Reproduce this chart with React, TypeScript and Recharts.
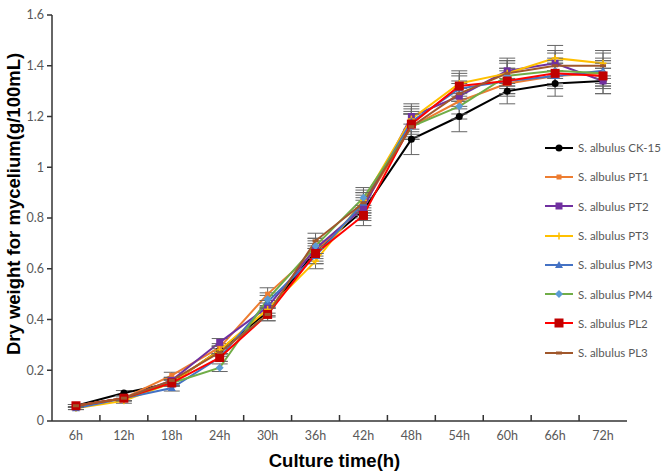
import React from 'react';
import { LineChart, Line, XAxis, YAxis, ErrorBar, Legend } from 'recharts';

const categories = ['6h', '12h', '18h', '24h', '30h', '36h', '42h', '48h', '54h', '60h', '66h', '72h'];

const ck15 = [0.06, 0.11, 0.15, 0.28, 0.43, 0.67, 0.83, 1.11, 1.2, 1.3, 1.33, 1.34];
const pt1 = [0.06, 0.09, 0.18, 0.29, 0.5, 0.67, 0.85, 1.16, 1.26, 1.33, 1.36, 1.37];
const pt2 = [0.06, 0.09, 0.16, 0.31, 0.45, 0.68, 0.84, 1.2, 1.28, 1.38, 1.41, 1.34];
const pt3 = [0.05, 0.08, 0.15, 0.28, 0.44, 0.63, 0.87, 1.19, 1.33, 1.37, 1.43, 1.41];
const pm3 = [0.05, 0.09, 0.13, 0.25, 0.47, 0.65, 0.86, 1.18, 1.31, 1.34, 1.36, 1.38];
const pm4 = [0.06, 0.09, 0.15, 0.21, 0.48, 0.69, 0.88, 1.16, 1.24, 1.36, 1.38, 1.37];
const pl2 = [0.06, 0.09, 0.15, 0.25, 0.42, 0.66, 0.81, 1.17, 1.32, 1.34, 1.37, 1.36];
const pl3 = [0.06, 0.09, 0.16, 0.27, 0.42, 0.71, 0.86, 1.16, 1.29, 1.37, 1.4, 1.4];

const errShared = [0.005, 0.01, 0.012, 0.015, 0.025, 0.03, 0.04, 0.05, 0.05, 0.05, 0.05, 0.05];
const errCK = [0.005, 0.01, 0.012, 0.015, 0.02, 0.05, 0.04, 0.06, 0.06, 0.05, 0.05, 0.05];

const yTicks = [0, 0.2, 0.4, 0.6, 0.8, 1, 1.2, 1.4, 1.6];

type MarkerKind = 'circle' | 'smallSquare' | 'square' | 'plus' | 'triangle' | 'diamond' | 'bigSquare' | 'dash';

const seriesDefs: { key: string; name: string; values: number[]; err: number[]; color: string; markerColor: string; marker: MarkerKind }[] = [
  { key: 'ck15', name: 'S. albulus CK-15', values: ck15, err: errCK, color: '#000000', markerColor: '#000000', marker: 'circle' },
  { key: 'pt1', name: 'S. albulus PT1', values: pt1, err: errShared, color: '#ED7D31', markerColor: '#ED7D31', marker: 'smallSquare' },
  { key: 'pt2', name: 'S. albulus PT2', values: pt2, err: errShared, color: '#7030A0', markerColor: '#7030A0', marker: 'square' },
  { key: 'pt3', name: 'S. albulus PT3', values: pt3, err: errShared, color: '#FFC000', markerColor: '#FFC000', marker: 'plus' },
  { key: 'pm3', name: 'S. albulus PM3', values: pm3, err: errShared, color: '#4472C4', markerColor: '#4472C4', marker: 'triangle' },
  { key: 'pm4', name: 'S. albulus PM4', values: pm4, err: errShared, color: '#70AD47', markerColor: '#5B9BD5', marker: 'diamond' },
  { key: 'pl2', name: 'S. albulus PL2', values: pl2, err: errShared, color: '#FF0000', markerColor: '#C00000', marker: 'bigSquare' },
  { key: 'pl3', name: 'S. albulus PL3', values: pl3, err: errShared, color: '#A0572B', markerColor: '#A0572B', marker: 'dash' },
];

const data = categories.map((c, i) => {
  const row: Record<string, any> = { time: c };
  seriesDefs.forEach((s) => {
    row[s.key] = s.values[i];
    row[s.key + 'Err'] = s.err[i];
  });
  return row;
});

const FONT = 'Lato, "Liberation Sans", sans-serif';
const TITLE_FONT = '"Liberation Sans", Arial, sans-serif';

function renderMarker(kind: MarkerKind, cx: number, cy: number, color: string, key?: string) {
  switch (kind) {
    case 'circle':
      return <circle key={key} cx={cx} cy={cy} r={3.5} fill={color} />;
    case 'smallSquare':
      return <rect key={key} x={cx - 2.5} y={cy - 2.5} width={5} height={5} fill={color} />;
    case 'square':
      return <rect key={key} x={cx - 3.5} y={cy - 3.5} width={7} height={7} fill={color} />;
    case 'plus':
      return (
        <g key={key}>
          <line x1={cx} y1={cy - 3.5} x2={cx} y2={cy + 3.5} stroke={color} strokeWidth={1.5} />
          <line x1={cx - 3.5} y1={cy} x2={cx + 3.5} y2={cy} stroke={color} strokeWidth={1.5} />
        </g>
      );
    case 'triangle':
      return <polygon key={key} points={`${cx},${cy - 4} ${cx + 4},${cy + 3} ${cx - 4},${cy + 3}`} fill={color} />;
    case 'diamond':
      return <polygon key={key} points={`${cx},${cy - 4} ${cx + 4},${cy} ${cx},${cy + 4} ${cx - 4},${cy}`} fill={color} />;
    case 'bigSquare':
      return <rect key={key} x={cx - 4.5} y={cy - 4.5} width={9} height={9} fill={color} />;
    case 'dash':
      return <rect key={key} x={cx - 3} y={cy - 1.5} width={6} height={3} fill={color} />;
  }
  return null;
}

const XTick = (props: any) => {
  const { x, y, payload, index, visibleTicksCount } = props;
  const off = payload && payload.offset ? payload.offset : 0;
  return (
    <g>
      {index < visibleTicksCount - 1 ? (
        <line x1={x + off} y1={y} x2={x + off} y2={y - 6} stroke="#333" strokeWidth={1.5} />
      ) : null}
      <text x={x} y={y + 19} textAnchor="middle" fill="#595959" fontSize={12.5} fontFamily={FONT}>
        {payload.value}
      </text>
    </g>
  );
};

const LegendContent = (props: any) => {
  const payload: any[] = props.payload || [];
  return (
    <div style={{ display: 'flex', flexDirection: 'column' }}>
      {seriesDefs.map((s) => {
        const p = payload.find((e: any) => e.dataKey === s.key);
        return (
          <div key={s.key} style={{ height: 29.3, display: 'flex', alignItems: 'center' }}>
            <svg width={30} height={12} style={{ display: 'block' }}>
              <line x1={0} y1={6} x2={28} y2={6} stroke={s.color} strokeWidth={2} />
              {renderMarker(s.marker, 14, 6, s.markerColor)}
            </svg>
            <span style={{ marginLeft: 3, fontSize: 11.5, color: '#595959', fontFamily: FONT, whiteSpace: 'nowrap' }}>
              {p ? p.value : s.name}
            </span>
          </div>
        );
      })}
    </div>
  );
};

export default function App() {
  return (
    <div style={{ position: 'absolute', left: 0, top: 0, width: 662, height: 472, background: '#fff' }}>
      <LineChart width={662} height={472} data={data} margin={{ top: 15, right: 35, bottom: 0, left: 0 }}>
        <XAxis
          dataKey="time"
          scale="band"
          height={51}
          tickSize={0}
          tickMargin={0}
          tickLine={false}
          axisLine={{ stroke: '#333', strokeWidth: 1.5 }}
          tick={<XTick />}
          interval={0}
          label={{
            content: (p: any) => {
              const vb = p.viewBox || { x: 52, width: 575, y: 421 };
              return (
                <text
                  x={vb.x + vb.width / 2 - 5}
                  y={467}
                  textAnchor="middle"
                  fontSize={18.5}
                  fontWeight="bold"
                  fontFamily={TITLE_FONT}
                  fill="#000"
                >
                  Culture time(h)
                </text>
              );
            },
          }}
        />
        <YAxis
          width={52}
          domain={[0, 1.6]}
          ticks={yTicks}
          tickSize={5}
          tickMargin={3}
          axisLine={{ stroke: '#333', strokeWidth: 1.5 }}
          tickLine={{ stroke: '#333', strokeWidth: 1.5 }}
          tick={{ fill: '#595959', fontSize: 12.5, fontFamily: FONT }}
          label={{
            content: (p: any) => {
              const vb = p.viewBox || { y: 15, height: 406 };
              const cy = vb.y + vb.height / 2 - 14;
              return (
                <text
                  x={13}
                  y={cy}
                  transform={`rotate(-90, 13, ${cy})`}
                  textAnchor="middle"
                  dominantBaseline="central"
                  fontSize={18.5}
                  fontWeight="bold"
                  fontFamily={TITLE_FONT}
                  fill="#000"
                >
                  Dry weight for mycelium(g/100mL)
                </text>
              );
            },
          }}
        />
        {seriesDefs.map((s) => (
          <Line
            key={s.key}
            dataKey={s.key}
            name={s.name}
            stroke={s.color}
            strokeWidth={2}
            isAnimationActive={false}
            dot={(p: any) => renderMarker(s.marker, p.cx, p.cy, s.markerColor, `${s.key}-${p.index}`) as any}
            activeDot={false}
          >
            <ErrorBar dataKey={s.key + 'Err'} width={8} strokeWidth={1} stroke="#666666" direction="y" />
          </Line>
        ))}
        <Legend
          layout="vertical"
          align="center"
          verticalAlign="middle"
          content={<LegendContent />}
          wrapperStyle={{ left: 545, top: 133, width: 117 }}
        />
      </LineChart>
    </div>
  );
}
